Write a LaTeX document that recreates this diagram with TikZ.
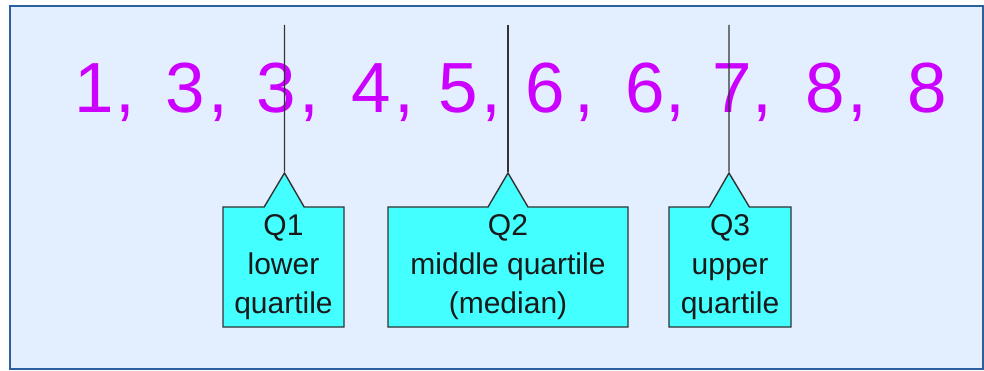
\documentclass[tikz,border=0pt]{standalone}
\usepackage{fontspec}
\setmainfont{Liberation Sans}
\usetikzlibrary{shapes.callouts}
\definecolor{bgblue}{RGB}{227,238,255}
\definecolor{frameblue}{RGB}{42,95,160}
\definecolor{numpurple}{RGB}{204,0,255}
\definecolor{boxcyan}{RGB}{68,255,255}
\definecolor{linegray}{RGB}{51,51,51}
\begin{document}
\begin{tikzpicture}[x=1pt,y=-1pt,
  num/.style={anchor=base,inner sep=0pt,text=numpurple,font=\fontsize{71}{71}\selectfont},
  qbox/.style={rectangle callout,draw=linegray,line width=1.4pt,fill=boxcyan,
    callout pointer width=40pt,inner sep=0pt,minimum height=120pt,align=center,
    text=black!90,font=\fontsize{30}{39}\selectfont},
  qline/.style={draw=linegray,line width=1.4pt}]
\useasboundingbox (0,0) rectangle (984,371);
\fill[white] (0,0) rectangle (984,371);
\draw[frameblue,line width=2pt,fill=bgblue] (10,6) rectangle (983,369);
% numbers
\node[num] (n1) at (94,113) {1};
\node[num] (c1) at (125,113) {,};
\node[num] (n2) at (185,113) {3};
\node[num] (c2) at (218,113) {,};
\node[num] (n3) at (276.5,113) {3};
\node[num] (c3) at (309,113) {,};
\node[num] (n4) at (371.5,113) {4};
\node[num] (c4) at (404,113) {,};
\node[num] (n5) at (458.5,113) {5};
\node[num] (c5) at (491,113) {,};
\node[num] (n6) at (545.5,113) {6};
\node[num] (c6) at (584,113) {,};
\node[num] (n7) at (645,113) {6};
\node[num] (c7) at (675,113) {,};
\node[num] (n8) at (732.5,113) {7};
\node[num] (c8) at (762.5,113) {,};
\node[num] (n9) at (825.5,113) {8};
\node[num] (c9) at (857.5,113) {,};
\node[num] (n10) at (927.5,113) {8};
% line tops
\coordinate (t1) at (284.5,25);
\coordinate (t2) at (508,25);
\coordinate (t3) at (729,25);
% callouts
\node[qbox,minimum width=121pt,callout absolute pointer={(284.5,173)}] (q1) at (283.5,267) {Q1\\lower\\quartile};
\node[qbox,minimum width=240pt,callout absolute pointer={(508,173)}] (q2) at (508,267) {Q2\\middle quartile\\(median)};
\node[qbox,minimum width=122pt,callout absolute pointer={(729,173)}] (q3) at (730,267) {Q3\\upper\\quartile};
\draw[qline] (t1) -- (q1.pointer);
\draw[qline] (t2) -- (q2.pointer);
\draw[qline] (t3) -- (q3.pointer);
\end{tikzpicture}
\end{document}
